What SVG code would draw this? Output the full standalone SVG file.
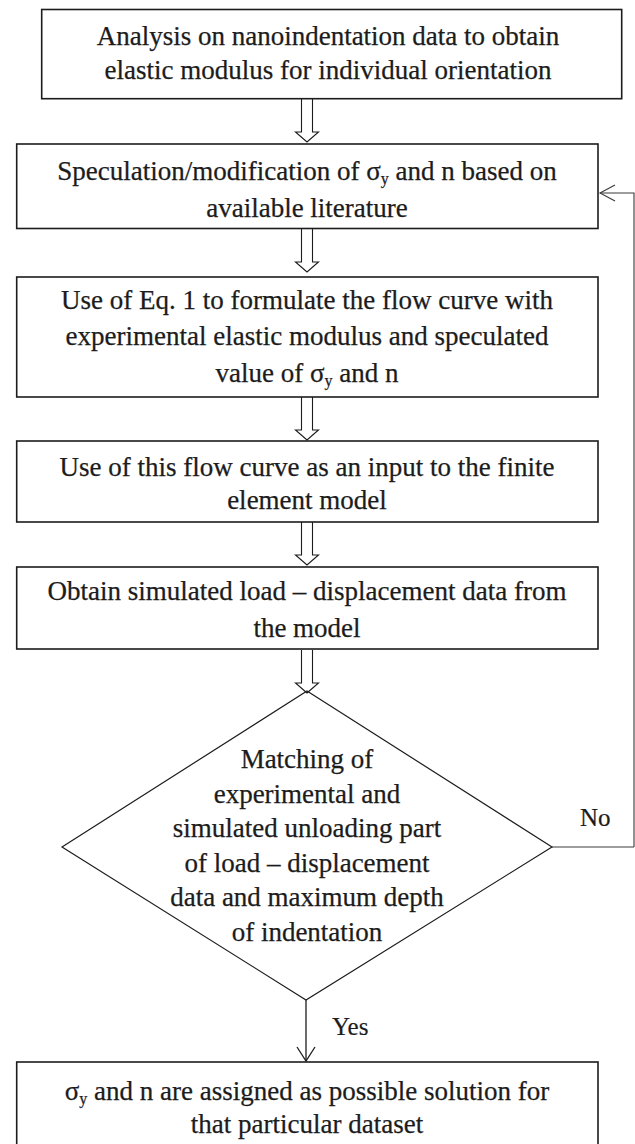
<svg xmlns="http://www.w3.org/2000/svg" width="635" height="1144" viewBox="0 0 635 1144">
  <style>
    .box{fill:#fff;stroke:#1c1c1c;stroke-width:1.6}
    .dia{fill:none;stroke:#1c1c1c;stroke-width:1.2}
    .hollow{fill:#fff;stroke:#1c1c1c;stroke-width:1.1}
    .wire{fill:none;stroke:#1c1c1c;stroke-width:1.3}
    .loop{fill:none;stroke:#3a3a3a;stroke-width:1.1}
    .t{font-family:"Liberation Serif","Times New Roman",serif;font-size:27px;fill:#1c1c1c;stroke:#1c1c1c;stroke-width:0.25;text-anchor:middle}
    .lbl{font-family:"Liberation Serif","Times New Roman",serif;font-size:25px;fill:#1c1c1c;stroke:#1c1c1c;stroke-width:0.2}
    .sub{font-size:16px}
  </style>
  <defs>
    <!-- block arrow between process steps, drawn from its top centre -->
    <path id="blockArrow" class="hollow" d="M-5.5,0 V33 H-11.5 L0,43 L11.5,33 H5.5 V0"/>
  </defs>

  <g id="connectors">
    <use href="#blockArrow" x="307" y="99"/>
    <use href="#blockArrow" x="307" y="229"/>
    <use href="#blockArrow" x="307" y="397"/>
    <use href="#blockArrow" x="307" y="522"/>
    <use href="#blockArrow" x="307" y="650"/>
    <!-- No branch back to the speculation step -->
    <polyline class="loop" points="552,847 634,847"/>
    <polyline class="loop" points="634,847 634,193 600,193" stroke="#5a5a5a"/>
    <polyline class="loop" points="615,185 600,193 615,201"/>
    <text class="lbl" x="580" y="826">No</text>
    <!-- Yes branch -->
    <line class="wire" x1="306" y1="1000" x2="306" y2="1061" stroke-width="2"/>
    <polyline class="wire" points="297,1047 306,1061 315,1047" stroke-width="1.8"/>
    <text class="lbl" x="332" y="1035">Yes</text>
  </g>

  <g id="step-analysis">
    <rect class="box" x="41.7" y="9.5" width="580" height="89.2"/>
    <text class="t" x="328" y="45">Analysis on nanoindentation data to obtain</text>
    <text class="t" x="328" y="79">elastic modulus for individual orientation</text>
  </g>

  <g id="step-speculation">
    <rect class="box" x="16.7" y="144" width="581.3" height="84.5"/>
    <text class="t" x="307" y="180">Speculation/modification of σ<tspan class="sub" dy="4">y</tspan><tspan dy="-4"> and n based on</tspan></text>
    <text class="t" x="307" y="217">available literature</text>
  </g>

  <g id="step-flow-curve">
    <rect class="box" x="16.7" y="277" width="581.3" height="120"/>
    <text class="t" x="307" y="309">Use of Eq. 1 to formulate the flow curve with</text>
    <text class="t" x="307" y="345">experimental elastic modulus and speculated</text>
    <text class="t" x="307" y="382">value of σ<tspan class="sub" dy="4">y</tspan><tspan dy="-4"> and n</tspan></text>
  </g>

  <g id="step-fe-input">
    <rect class="box" x="16.7" y="441" width="581.3" height="81"/>
    <text class="t" x="307" y="476">Use of this flow curve as an input to the finite</text>
    <text class="t" x="307" y="509">element model</text>
  </g>

  <g id="step-simulate">
    <rect class="box" x="16.7" y="567" width="581.3" height="82"/>
    <text class="t" x="307" y="600">Obtain simulated load – displacement data from</text>
    <text class="t" x="307" y="637">the model</text>
  </g>

  <g id="decision-match">
    <polygon class="dia" points="307,691 552,847 306,1000 62,847"/>
    <text class="t" x="307" y="768">Matching of</text>
    <text class="t" x="307" y="803">experimental and</text>
    <text class="t" x="307" y="837">simulated unloading part</text>
    <text class="t" x="307" y="872">of load – displacement</text>
    <text class="t" x="307" y="906">data and maximum depth</text>
    <text class="t" x="307" y="941">of indentation</text>
  </g>

  <g id="step-solution">
    <rect class="box" x="16.7" y="1062" width="581.3" height="90"/>
    <text class="t" x="307" y="1100">σ<tspan class="sub" dy="4">y</tspan><tspan dy="-4"> and n are assigned as possible solution for</tspan></text>
    <text class="t" x="307" y="1133">that particular dataset</text>
  </g>
</svg>
